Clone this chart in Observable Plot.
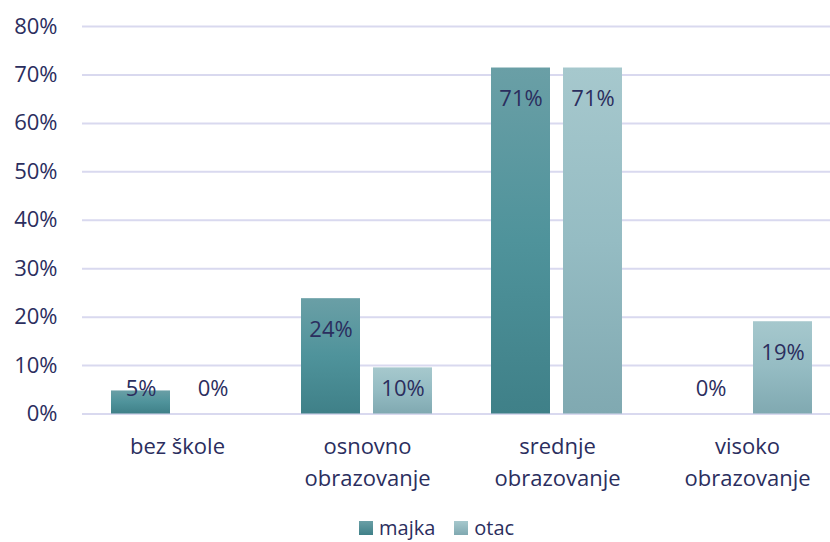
<!DOCTYPE html>
<html>
<head>
<meta charset="utf-8">
<script src="https://cdn.jsdelivr.net/npm/d3@7"></script>
<script src="https://cdn.jsdelivr.net/npm/@observablehq/plot@0.6"></script>
<style>
  body { margin: 0; background: #fff; font-family: "Open Sans", sans-serif; }
  #wrap { position: relative; width: 830px; height: 542px; overflow: hidden; }
  #legend { position: absolute; left: 359px; top: 517px; display: flex; align-items: center; font-size: 20px; color: #2b2e5e; line-height: 22px; }
  .sw { width: 14px; height: 14px; display: inline-block; margin-right: 6px; }
  .item { display: flex; align-items: center; margin-right: 19px; }
</style>
</head>
<body>
<svg width="0" height="0" style="position:absolute">
  <defs>
    <linearGradient id="gm" x1="0" y1="0" x2="0" y2="1">
      <stop offset="0" stop-color="#6a9fa6"/>
      <stop offset="0.5" stop-color="#4f939b"/>
      <stop offset="1" stop-color="#3f8088"/>
    </linearGradient>
    <linearGradient id="go" x1="0" y1="0" x2="0" y2="1">
      <stop offset="0" stop-color="#a6c8cd"/>
      <stop offset="0.5" stop-color="#95bcc3"/>
      <stop offset="1" stop-color="#80a9b1"/>
    </linearGradient>
  </defs>
</svg>
<div id="wrap">
  <div id="chart"></div>
  <div id="legend">
    <div class="item"><span class="sw" style="background:linear-gradient(#6a9fa6,#3f8088)"></span>majka</div>
    <div class="item"><span class="sw" style="background:linear-gradient(#a6c8cd,#80a9b1)"></span>otac</div>
  </div>
</div>
<script>
const categories = ["bez škole", "osnovno\nobrazovanje", "srednje\nobrazovanje", "visoko\nobrazovanje"];
const series = ["majka", "otac"];
const majka = [4.76, 23.81, 71.43, 0];
const otac = [0, 9.52, 71.43, 19.05];
const yTicks = [0, 10, 20, 30, 40, 50, 60, 70, 80];

const ink = "#2b2e5e";
const data = categories.flatMap((c, i) => [
  {cat: c, s: "majka", v: majka[i]},
  {cat: c, s: "otac", v: otac[i]}
]);
const fmt = d => Math.round(d.v) + "%";

const chart = Plot.plot({
  width: 830,
  height: 500,
  marginLeft: 81,
  marginRight: 0,
  marginTop: 26,
  marginBottom: 86.5,
  style: {fontFamily: "Open Sans", color: ink, background: "white", fontSize: "22px"},
  fx: {domain: categories, range: [81, 843], padding: 0, label: null},
  x: {domain: series, paddingInner: 0.178, paddingOuter: 0.394, axis: null},
  y: {domain: [0, 80], axis: null},
  color: {domain: series, range: ["url(#gm)", "url(#go)"]},
  marks: [
    Plot.ruleY(yTicks, {stroke: "#d9d9ef", strokeWidth: 2}),
    Plot.barY(data, {fx: "cat", x: "s", y: "v", fill: "s"}),
    Plot.text(data.filter(d => d.v >= 12), {fx: "cat", x: "s", y: "v", dy: 31, text: fmt, fontSize: 22, fill: ink}),
    Plot.text(data.filter(d => d.v < 12), {fx: "cat", x: "s", y: 0, dy: -25, text: fmt, fontSize: 22, fill: ink}),
    Plot.axisY(yTicks, {tickSize: 0, tickPadding: 25, tickFormat: d => d + "%", fontSize: 22, fill: ink, label: null}),
    Plot.axisFx({anchor: "bottom", tickSize: 0, tickPadding: 17, fontSize: 22, lineHeight: 1.45, fill: ink, label: null})
  ]
});
document.getElementById("chart").appendChild(chart);
</script>
</body>
</html>
